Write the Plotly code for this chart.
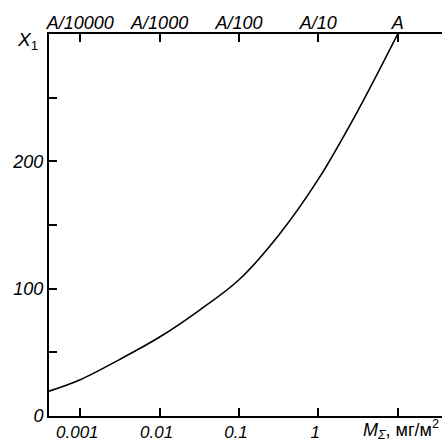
import plotly.graph_objects as go

# data
m_values = [0.000404, 0.001, 0.00316, 0.01, 0.0316, 0.1, 0.316, 1.0, 3.16, 10.0]
x1_values = [19.5, 28.5, 44.5, 62, 83, 107, 142, 186, 240, 300]

bottom_tickvals = [0.001, 0.01, 0.1, 1, 10]
bottom_ticktext = ["0.001", "0.01", "0.1", "1", ""]
top_ticktext = ["A/10000", "A/1000", "A/100", "A/10", "A"]
y_tickvals = [0, 50, 100, 150, 200, 250]
y_ticktext = ["0", "", "100", "", "200", ""]

FAM = "Liberation Sans, Arial, sans-serif"
LOGRANGE = [-3.394, 1.558]


def tickfont(size):
    return dict(family=FAM, size=size, color="black", style="italic")


fig = go.Figure()
fig.add_trace(go.Scatter(x=m_values, y=x1_values, mode="lines",
                         line=dict(color="black", width=1.6, shape="spline"),
                         showlegend=False, hoverinfo="skip"))
# invisible trace to activate the top axis
fig.add_trace(go.Scatter(x=[m_values[0]], y=[x1_values[0]], xaxis="x2", mode="markers",
                         marker=dict(opacity=0), showlegend=False, hoverinfo="skip"))

axis_common = dict(showgrid=False, zeroline=False, showline=True, linecolor="black",
                   linewidth=2, ticks="inside", ticklen=8, tickwidth=2, tickcolor="black")

fig.update_layout(
    width=442, height=442,
    margin=dict(l=49, r=0, t=34, b=26),
    paper_bgcolor="white", plot_bgcolor="white",
    font=dict(family=FAM, size=18, color="black"),
    xaxis=dict(type="log", range=LOGRANGE, tickvals=bottom_tickvals, ticktext=bottom_ticktext,
               tickfont=tickfont(17), ticklabelshift=-3, **axis_common),
    xaxis2=dict(type="log", range=LOGRANGE, overlaying="x", side="top", anchor="y",
                tickvals=bottom_tickvals, ticktext=top_ticktext, tickfont=tickfont(18),
                ticklabelstandoff=-4, **axis_common),
    yaxis=dict(range=[0, 300], tickvals=y_tickvals, ticktext=y_ticktext,
               tickfont=tickfont(18), **axis_common),
)

fig.add_annotation(xref="paper", yref="paper", x=-0.022, y=0.982, xanchor="right", yanchor="middle",
                   text="<i>X</i><sub>1</sub>", showarrow=False, font=dict(size=19, family=FAM))
fig.add_annotation(xref="paper", yref="paper", x=0.997, y=0, yshift=-13, xanchor="right", yanchor="middle",
                   text="<i>M<sub>Σ</sub></i>, мг/м<sup>2</sup>", showarrow=False,
                   font=dict(size=18, family=FAM))

fig.write_html("out.html", config={"displayModeBar": False},
               post_script="document.body.style.margin='0';")
